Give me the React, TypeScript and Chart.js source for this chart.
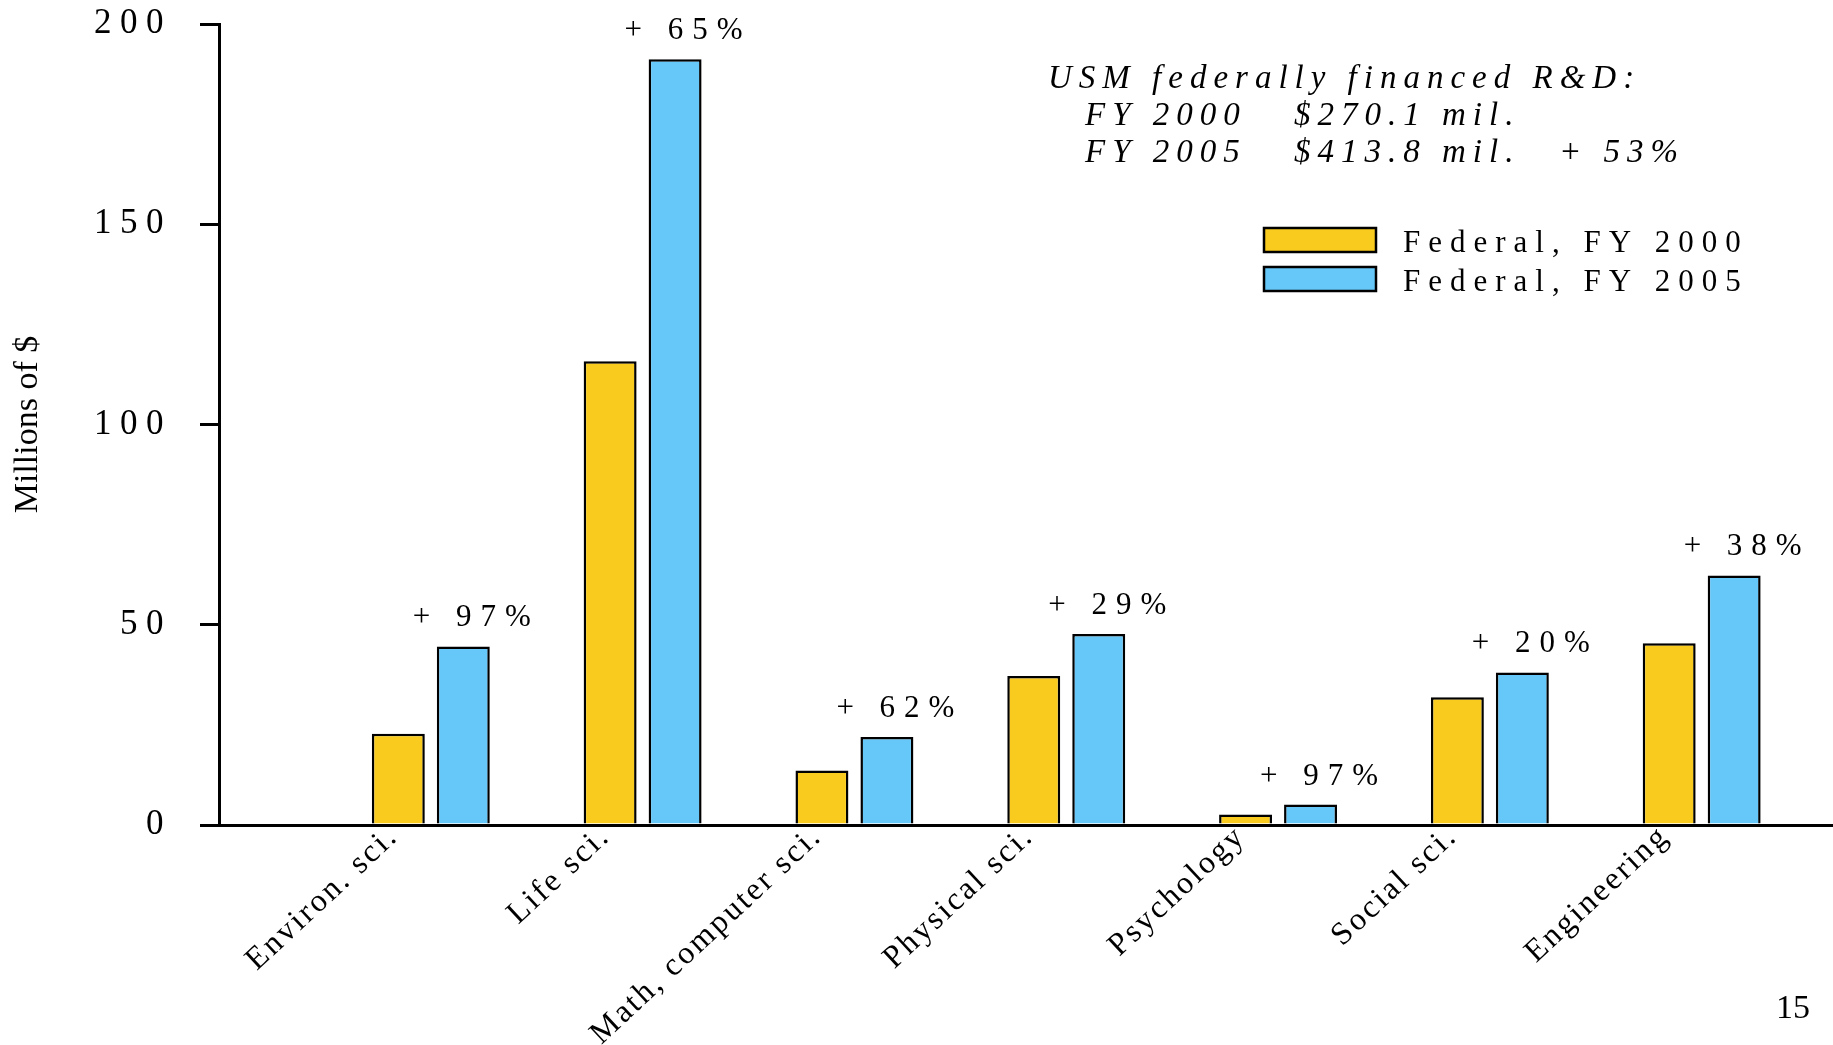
import React, { useEffect, useRef } from 'react';
import { Chart, registerables } from 'chart.js';

Chart.register(...registerables);

const categories = ['Environ. sci.', 'Life sci.', 'Math, computer sci.', 'Physical sci.', 'Psychology', 'Social sci.', 'Engineering'];
const fy2000 = [22.8, 115.8, 13.6, 37.2, 2.6, 31.9, 45.4];
const fy2005 = [44.6, 191.2, 22.0, 47.7, 5.1, 38.1, 62.3];
const growthLabels = ['+ 97%', '+ 65%', '+ 62%', '+ 29%', '+ 97%', '+ 20%', '+ 38%'];
const yTicks = [0, 50, 100, 150, 200];
const seriesLabels = ['Federal, FY 2000', 'Federal, FY 2005'];
const seriesColors = ['#F9CB1F', '#66C7F9'];
const noteTitle = 'USM federally financed R&D:';
const noteRow2000 = ['FY 2000', '$270.1 mil.'];
const noteRow2005 = ['FY 2005', '$413.8 mil.', '+ 53%'];
const yTitle = 'Millions of $';
const pageNumber = '15';

const SERIF = '"Liberation Serif", "Times New Roman", Times, serif';

const overlay = {
  id: 'overlay',
  beforeDraw(chart: any) {
    chart.ctx.letterSpacing = '8.5px';
  },
  afterDatasetsDraw(chart: any) {
    chart.ctx.letterSpacing = '2.5px';
  },
  afterDraw(chart: any) {
    const ctx = chart.ctx as any;
    ctx.save();
    ctx.fillStyle = '#000';

    // growth labels above FY 2005 bars
    const meta = chart.getDatasetMeta(1);
    ctx.font = `31px ${SERIF}`;
    ctx.letterSpacing = '9px';
    ctx.textAlign = 'center';
    ctx.textBaseline = 'alphabetic';
    meta.data.forEach((bar: any, i: number) => {
      ctx.fillText(growthLabels[i], bar.x + 13, bar.y - 20);
    });

    // note text
    ctx.font = `italic 33px ${SERIF}`;
    ctx.letterSpacing = '7px';
    ctx.textAlign = 'left';
    ctx.fillText(noteTitle, 1048, 88);
    const cols = [1085, 1294, 1559];
    noteRow2000.forEach((t, i) => ctx.fillText(t, cols[i], 125));
    noteRow2005.forEach((t, i) => ctx.fillText(t, cols[i], 162));

    // legend
    ctx.font = `31px ${SERIF}`;
    ctx.letterSpacing = '8px';
    const tops = [228, 267];
    seriesLabels.forEach((lab, i) => {
      ctx.fillStyle = seriesColors[i];
      ctx.fillRect(1264, tops[i], 112, 24);
      ctx.strokeStyle = '#000';
      ctx.lineWidth = 2.5;
      ctx.strokeRect(1264, tops[i], 112, 24);
      ctx.fillStyle = '#000';
      ctx.fillText(lab, 1403, tops[i] + 24);
    });

    // y title
    ctx.letterSpacing = '0px';
    ctx.font = `34px ${SERIF}`;
    ctx.save();
    ctx.translate(37, (chart.chartArea.top + chart.chartArea.bottom) / 2);
    ctx.rotate(-Math.PI / 2);
    ctx.textAlign = 'center';
    ctx.textBaseline = 'alphabetic';
    ctx.fillText(yTitle, 0, 0);
    ctx.restore();

    // page number
    ctx.textAlign = 'left';
    ctx.fillText(pageNumber, 1776, 1018);
    ctx.restore();
  },
};

export default function App() {
  const ref = useRef<HTMLCanvasElement | null>(null);
  useEffect(() => {
    document.body.style.margin = '0';
    const canvas = ref.current;
    if (!canvas) return;
    const chart = new Chart(canvas, {
      type: 'bar',
      data: {
        datasets: [
          {
            label: seriesLabels[0],
            data: fy2000.map((v, i) => ({ x: i + 1, y: v })),
            backgroundColor: seriesColors[0],
            borderColor: '#000',
            borderWidth: 2.5,
          },
          {
            label: seriesLabels[1],
            data: fy2005.map((v, i) => ({ x: i + 1, y: v })),
            backgroundColor: seriesColors[1],
            borderColor: '#000',
            borderWidth: 2.5,
          },
        ],
      },
      options: {
        responsive: false,
        animation: false,
        devicePixelRatio: 1,
        layout: { padding: { top: 24, left: 0, right: 0, bottom: 0 } },
        datasets: { bar: { categoryPercentage: 0.6135, barPercentage: 0.815 } },
        plugins: { legend: { display: false }, tooltip: { enabled: false } },
        scales: {
          x: {
            type: 'linear',
            min: 0,
            max: 7.62,
            offset: false,
            grid: { display: false, drawTicks: false, offset: false },
            border: { display: true, color: '#000', width: 3, z: 1 },
            afterBuildTicks: (scale: any) => {
              scale.ticks = categories.map((_, i) => ({ value: i + 1 }));
            },
            afterFit: (scale: any) => {
              scale.height = 220;
              scale.paddingLeft = 0;
              scale.paddingRight = 0;
            },
            ticks: {
              z: 1,
              autoSkip: false,
              minRotation: 43,
              maxRotation: 43,
              labelOffset: -37,
              padding: -7,
              color: '#000',
              font: { family: SERIF, size: 32 },
              callback: (value: any) => categories[Math.round(Number(value)) - 1] ?? '',
            },
          },
          y: {
            min: 0,
            max: 200,
            grid: { display: true, drawOnChartArea: false, drawTicks: true, tickLength: 19, color: '#000', lineWidth: 3 },
            border: { display: true, color: '#000', width: 3 },
            afterBuildTicks: (scale: any) => {
              scale.ticks = yTicks.map((v) => ({ value: v }));
            },
            afterFit: (scale: any) => {
              scale.width = 219;
              scale.paddingTop = 0;
              scale.paddingBottom = 0;
            },
            ticks: {
              padding: 28,
              color: '#000',
              font: { family: SERIF, size: 35 },
              callback: (value: any) => String(value),
            },
          },
        },
      } as any,
      plugins: [overlay],
    });
    return () => chart.destroy();
  }, []);
  return <canvas ref={ref} width={1833} height={1045} style={{ display: 'block' }} />;
}
